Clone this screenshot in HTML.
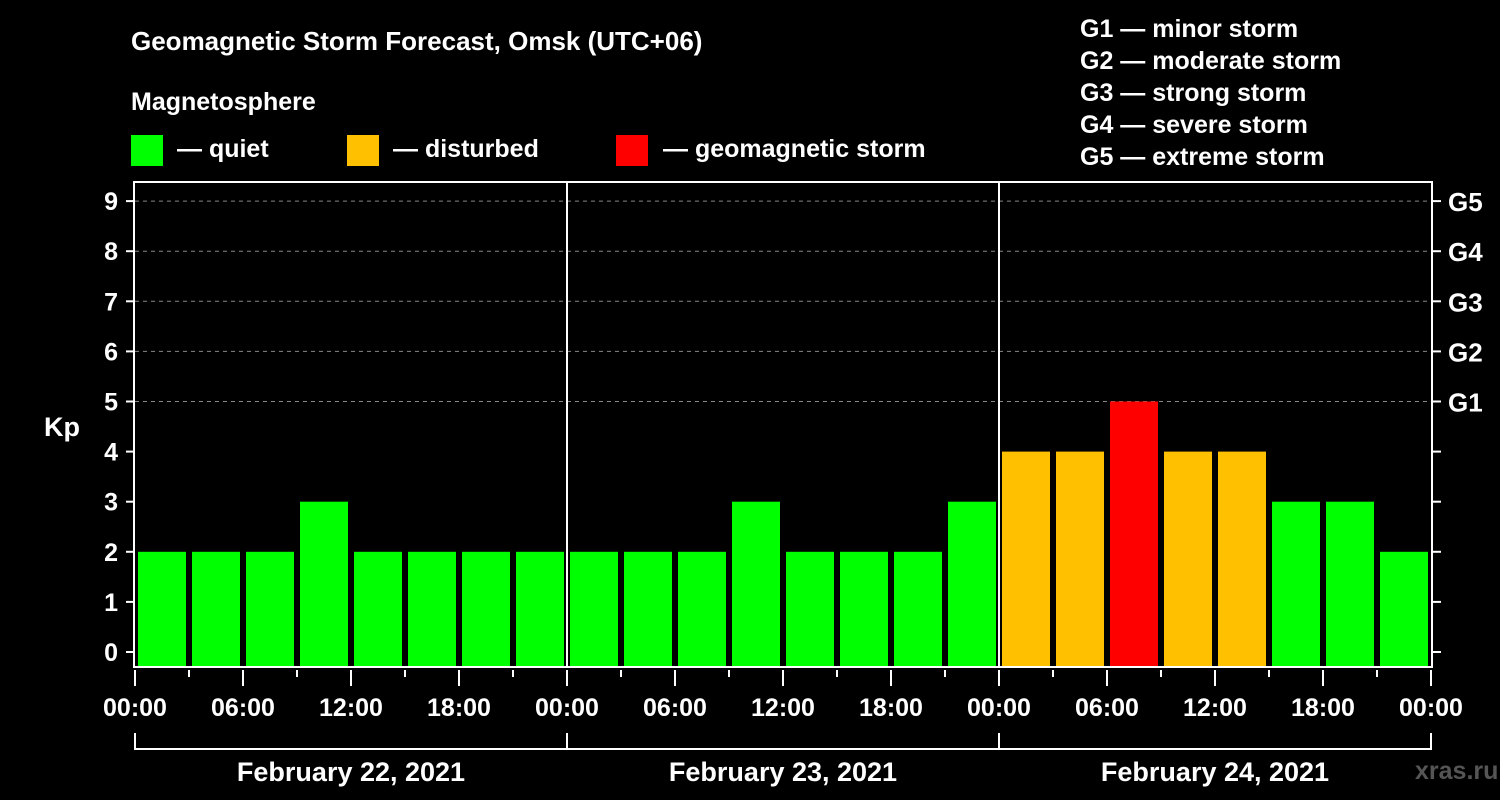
<!DOCTYPE html>
<html><head><meta charset="utf-8"><style>
html,body{margin:0;padding:0;background:#000;}
svg{display:block;font-family:"Liberation Sans",Arial,sans-serif;font-weight:bold;}
</style></head><body>
<svg id="chart" width="1500" height="800" viewBox="0 0 1500 800">
<rect width="1500" height="800" fill="#000"/>
<text x="131" y="50" fill="#fff" font-size="26">Geomagnetic Storm Forecast, Omsk (UTC+06)</text>
<text x="131" y="110" fill="#fff" font-size="25">Magnetosphere</text>
<g><rect x="131" y="135" width="32" height="31" fill="#00ff00"/><text x="177" y="157" fill="#fff" font-size="25">— quiet</text></g>
<g><rect x="347" y="135" width="32" height="31" fill="#ffc000"/><text x="393" y="157" fill="#fff" font-size="25">— disturbed</text></g>
<g><rect x="616" y="135" width="32" height="31" fill="#ff0000"/><text x="663" y="157" fill="#fff" font-size="25">— geomagnetic storm</text></g>
<g fill="#fff" font-size="25">
<text x="1080" y="37">G1 — minor storm</text>
<text x="1080" y="69">G2 — moderate storm</text>
<text x="1080" y="101">G3 — strong storm</text>
<text x="1080" y="133">G4 — severe storm</text>
<text x="1080" y="165">G5 — extreme storm</text>
</g>
<text x="62" y="436" fill="#fff" font-size="27" text-anchor="middle">Kp</text>
<text x="1415" y="779" fill="#555" font-size="25">xras.ru</text>
<g id="grid"></g><g id="bars"></g><g id="axes"></g>
</svg>
<script>
const kpValues = [2,2,2,3,2,2,2,2, 2,2,2,3,2,2,2,3, 4,4,5,4,4,3,3,2];
const dayLabels = ["February 22, 2021","February 23, 2021","February 24, 2021"];
const hourLabels = ["00:00","06:00","12:00","18:00"];
const yTicks = [0,1,2,3,4,5,6,7,8,9];
const gLabels = ["G1","G2","G3","G4","G5"];
const NS="http://www.w3.org/2000/svg";
const X0=135,X1=1431,YT=182,YB=667;
const xs=h=>X0+(X1-X0)*h/72;
const ys=k=>652-50.1*k;
function mk(tag,parent,attrs){const e=document.createElementNS(NS,tag);for(const k in attrs)e.setAttribute(k,attrs[k]);parent.appendChild(e);return e;}
const grid=document.getElementById('grid'),bars=document.getElementById('bars'),axes=document.getElementById('axes');
yTicks.forEach(k=>{
 if(k>=5){const l=mk('line',grid,{x1:X0,x2:X1,y1:ys(k),y2:ys(k),stroke:'#888','stroke-dasharray':'4,4','stroke-width':1});
 
 }
 const t=mk('line',axes,{x1:X0-9,x2:X0,y1:ys(k),y2:ys(k),stroke:'#fff','stroke-width':2});
 
 
 const t2=mk('line',axes,{x1:X1,x2:X1+10,y1:ys(k),y2:ys(k),stroke:'#fff','stroke-width':2});
 
 
 const tx=mk('text',axes,{x:X0-17,y:ys(k)+9,fill:'#fff','font-size':25,'text-anchor':'end'});tx.textContent=k;
 
 
});
gLabels.forEach((g,i)=>{
 const tx=mk('text',axes,{x:X1+17,y:ys(5+i)+10,fill:'#fff','font-size':26});tx.textContent=g;
 
 
});
kpValues.forEach((v,i)=>{
 const c=v>=5?'#ff0000':(v>=4?'#ffc000':'#00ff00');
 const x=xs(i*3)+3;
 const r=mk('rect',bars,{x:x,y:ys(v),width:xs(3)-xs(0)-6,height:YB-ys(v),fill:c});
 
 
});
const f=mk('rect',axes,{x:X0-1,y:YT,width:X1-X0+2,height:YB-YT,fill:'none',stroke:'#fff','stroke-width':2});


for(let h=0;h<=72;h+=3){
 const major=h%6===0;
 const l=mk('line',axes,{x1:xs(h),x2:xs(h),y1:YB+3,y2:YB+(major?19:10),stroke:'#fff','stroke-width':2});
 
 
 if(major){const tx=mk('text',axes,{x:xs(h),y:716,fill:'#fff','font-size':25,'text-anchor':'middle'});
 tx.textContent=hourLabels[(h/6)%4];
 
 }
}
dayLabels.forEach((d,i)=>{
 const a=xs(i*24),b=xs(i*24+24);
 if(i>0){const s=mk('line',axes,{x1:a,x2:a,y1:YT,y2:YB,stroke:'#fff','stroke-width':2});
 
 }
 const p=mk('path',axes,{d:`M${a} 733V749H${b}V733`,stroke:'#fff','stroke-width':2,fill:'none'});
 
 
 const tx=mk('text',axes,{x:(a+b)/2,y:781,fill:'#fff','font-size':27,'text-anchor':'middle'});tx.textContent=d;
 
 
});
</script>
</body></html>
